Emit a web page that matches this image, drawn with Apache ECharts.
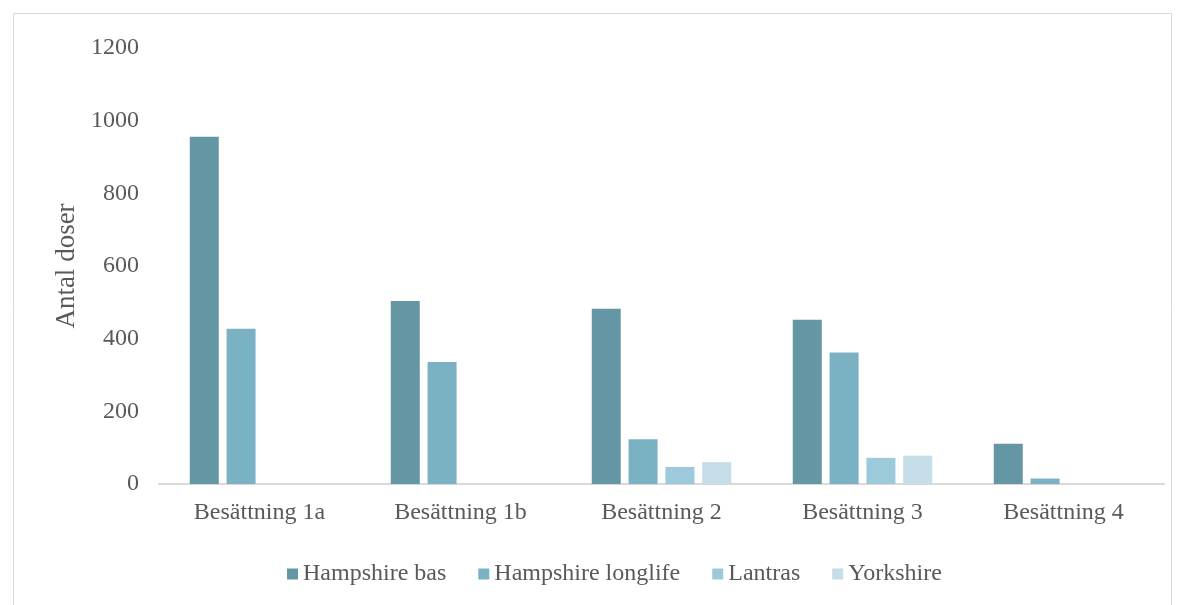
<!DOCTYPE html>
<html>
<head>
<meta charset="utf-8">
<script src="https://cdn.jsdelivr.net/npm/echarts@6/dist/echarts.min.js"></script>
<style>
  html, body { margin: 0; padding: 0; background: #fff; }
  #chart { width: 1184px; height: 605px; }
</style>
</head>
<body>
<div id="chart"></div>
<script>
// Antal doser per besättning och ras
const categories = ['Besättning 1a', 'Besättning 1b', 'Besättning 2', 'Besättning 3', 'Besättning 4'];
const hampshireBas = [956, 504, 482, 452, 111];
const hampshireLonglife = [427, 336, 123, 362, 15];
const lantras = [0, 0, 47, 72, 0];
const yorkshire = [0, 0, 60, 78, 0];
const seriesNames = ['Hampshire bas', 'Hampshire longlife', 'Lantras', 'Yorkshire'];
const seriesColors = ['#6596a3', '#7ab2c4', '#9dcadb', '#c4dde6'];

const font = 'Liberation Serif';
const textColor = '#595959';

const chart = echarts.init(document.getElementById('chart'), null, { renderer: 'canvas' });

const values = [hampshireBas, hampshireLonglife, lantras, yorkshire];

chart.setOption({
  animation: false,
  textStyle: { fontFamily: font, color: textColor },
  graphic: [{
    type: 'rect',
    shape: { x: 13.5, y: 13.5, width: 1158, height: 600 },
    style: { fill: 'none', stroke: '#d9d9d9', lineWidth: 1 },
    silent: true
  }],
  grid: { left: 159, right: 20, top: 48, bottom: 121 },
  legend: {
    data: seriesNames,
    left: 282,
    top: 557,
    icon: 'rect',
    itemWidth: 11,
    itemHeight: 11,
    itemGap: 32,
    textStyle: { fontFamily: font, fontSize: 24, color: textColor }
  },
  xAxis: {
    type: 'category',
    data: categories,
    axisLine: { lineStyle: { color: '#d9d9d9', width: 2 } },
    axisTick: { show: false },
    axisLabel: { fontFamily: font, fontSize: 24, color: textColor, margin: 17 }
  },
  yAxis: {
    type: 'value',
    min: 0,
    max: 1200,
    interval: 200,
    name: 'Antal doser',
    nameLocation: 'middle',
    nameGap: 77,
    nameRotate: 90,
    nameTextStyle: { fontFamily: font, fontSize: 27, color: textColor },
    axisLine: { show: false },
    axisTick: { show: false },
    splitLine: { show: false },
    axisLabel: {
      fontFamily: font, fontSize: 24, color: textColor, margin: 20,
      formatter: (v) => String(v)
    }
  },
  series: seriesNames.map((name, i) => ({
    name: name,
    type: 'bar',
    data: values[i],
    barWidth: 29,
    barGap: '27%',
    itemStyle: { color: seriesColors[i] }
  }))
});
</script>
</body>
</html>
